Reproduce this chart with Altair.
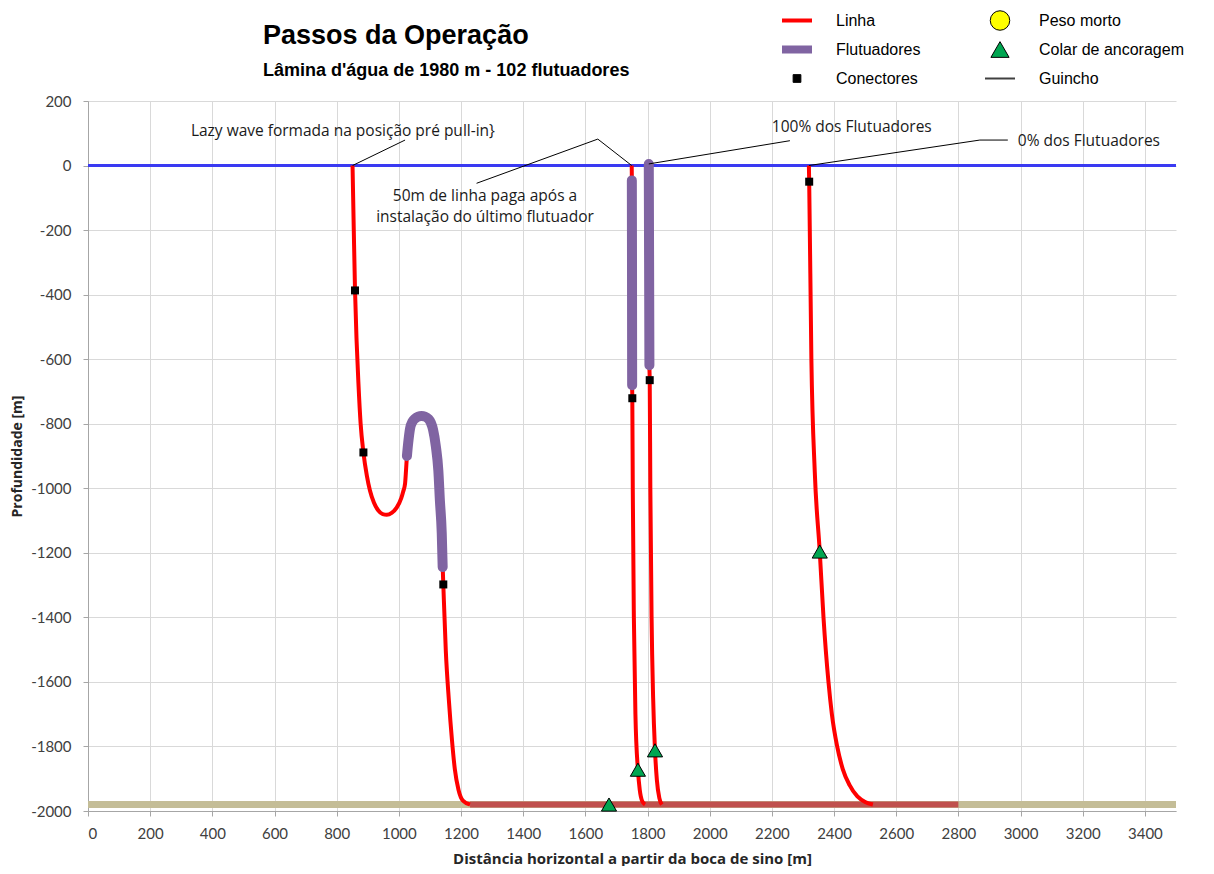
import altair as alt
import pandas as pd

# ---------------- data ----------------
# Curve 1 (lazy wave formed at pre pull-in position)
linha1_x = [851, 855, 859, 864, 870, 877, 886, 897, 907, 920, 934, 948, 961, 977, 993, 1008, 1014, 1020,
            1023, 1026, 1030, 1036, 1044, 1052, 1062, 1073, 1084, 1094, 1103, 1110, 1119, 1127, 1132, 1138,
            1141, 1143, 1151, 1161, 1171, 1180, 1192, 1206, 1229]
linha1_y = [0, -200, -387, -542, -676, -800, -889, -961, -1007, -1045, -1069, -1080, -1082, -1076, -1060,
            -1030, -1010, -985, -945, -900, -860, -815, -793, -784, -778, -776, -778, -784, -797, -818, -870,
            -945, -1038, -1140, -1244, -1298, -1503, -1658, -1782, -1870, -1935, -1968, -1980]
flut1_x = [1026, 1030, 1036, 1044, 1052, 1062, 1073, 1084, 1094, 1103, 1110, 1119, 1127, 1132, 1138, 1141]
flut1_y = [-900, -860, -815, -793, -784, -778, -776, -778, -784, -797, -818, -870, -945, -1038, -1140, -1244]

# Curve 2 (50 m of line paid out after last buoy)
linha2_x = [1749, 1749.5, 1750, 1750.5, 1751, 1752.5, 1756, 1761, 1769, 1775, 1783, 1792]
linha2_y = [0, -46, -300, -681, -721, -1000, -1400, -1700, -1872, -1935, -1970, -1980]
flut2_x = [1749.5, 1750, 1750.5]
flut2_y = [-46, -300, -681]

# Curve 3 (100% of buoys)
linha3_x = [1804, 1805, 1806, 1807, 1809, 1813, 1818, 1824, 1830, 1838, 1846]
linha3_y = [5, -300, -619, -665, -1000, -1400, -1650, -1812, -1904, -1960, -1980]
flut3_x = [1804, 1805, 1806]
flut3_y = [5, -300, -619]

# Curve 4 (0% of buoys)
linha4_x = [2319, 2320, 2327, 2338, 2354, 2366, 2382, 2393, 2410, 2428, 2450, 2475, 2500, 2525]
linha4_y = [0, -50, -598, -950, -1196, -1400, -1600, -1700, -1800, -1870, -1920, -1955, -1972, -1980]

# Line lying on the seabed
fundo_linha_x = [1229, 2800]
fundo_linha_y = [-1980, -1980]

# Sea surface and seabed
superficie_x = [0, 3500]
superficie_y = [0, 0]
leito_x = [0, 3500]
leito_y = [-1980, -1980]

# Connectors and anchoring collars
conect_x = [859, 886, 1143, 1751, 1807, 2320]
conect_y = [-387, -889, -1298, -721, -665, -50]
colar_x = [1676, 1769, 1824, 2354]
colar_y = [-1980, -1872, -1812, -1196]

# Annotations
anot_centro_txt = ["Lazy wave formada na posição pré pull-in}", "50m de linha paga após a",
                   "instalação do último flutuador", "100% dos Flutuadores"]
anot_centro_x = [820, 1277, 1277, 2457]
anot_centro_y = [108, -93, -158, 118]
anot_esq_txt = ["0% dos Flutuadores"]
anot_esq_x = [2991]
anot_esq_y = [76]
guia_id = [1, 1, 2, 2, 2, 3, 3, 4, 4, 4]
guia_x = [851, 1020, 1250, 1640, 1749, 1804, 2258, 2319, 2869, 2959]
guia_y = [0, 79, -55, 82, 0, 5, 77, 0, 79, 79]

# Legend (column-major: first column, then second column)
leg_itens = ["Linha", "Flutuadores", "Conectores", "Peso morto", "Colar de ancoragem", "Guincho"]
leg_formas = ["stroke", "stroke", "square", "circle", "triangle-up", "stroke"]
leg_preench = ["#ff0000", "#8064a2", "#000000", "#ffff00", "#00a651", "#404040"]
leg_contorno = ["#ff0000", "#8064a2", "#000000", "#000000", "#000000", "#404040"]
leg_tam = [900, 900, 60, 380, 330, 900]
leg_esp = [4, 8, 1, 1, 1, 2]

x_ticks = list(range(0, 3500, 200))
y_ticks = list(range(-2000, 201, 200))

# ---------------- frames ----------------
def seg(nome, xs, ys):
    return pd.DataFrame({"serie": nome, "x": xs, "y": ys, "ordem": list(range(len(xs)))})

df_linha = pd.concat([seg("c1", linha1_x, linha1_y), seg("c2", linha2_x, linha2_y),
                      seg("c3", linha3_x, linha3_y), seg("c4", linha4_x, linha4_y)])
df_flut = pd.concat([seg("f1", flut1_x, flut1_y), seg("f2", flut2_x, flut2_y),
                     seg("f3", flut3_x, flut3_y)])
df_fundo = seg("fundo", fundo_linha_x, fundo_linha_y)
df_sup = seg("sup", superficie_x, superficie_y)
df_leito = seg("leito", leito_x, leito_y)
df_con = pd.DataFrame({"x": conect_x, "y": conect_y})
df_col = pd.DataFrame({"x": colar_x, "y": colar_y})
df_anc = pd.DataFrame({"x": anot_centro_x, "y": anot_centro_y, "t": anot_centro_txt})
df_ane = pd.DataFrame({"x": anot_esq_x, "y": anot_esq_y, "t": anot_esq_txt})
df_guia = pd.DataFrame({"serie": guia_id, "x": guia_x, "y": guia_y, "ordem": list(range(len(guia_x)))})
df_leg = pd.DataFrame({"item": leg_itens})

FONT = "Lato"
TFONT = "Open Sans"
xs = alt.Scale(domain=[0, 3500], nice=False, zero=False)
ys = alt.Scale(domain=[-2000, 200], nice=False, zero=False)
X = alt.X("x:Q", scale=xs, axis=alt.Axis(values=x_ticks, title="Distância horizontal a partir da boca de sino [m]",
                                         labelExpr="'' + datum.value", labelPadding=10, titlePadding=10,
                                         titleFontSize=15))
Y = alt.Y("y:Q", scale=ys, axis=alt.Axis(values=y_ticks, title="Profundidade [m]", labelPadding=12,
                                         labelExpr="'' + datum.value", titlePadding=6))

leito = alt.Chart(df_leito).mark_line(color="#c4bd97", strokeWidth=7).encode(x=X, y=Y, order="ordem:Q")
sup = alt.Chart(df_sup).mark_line(color="#3a3af2", strokeWidth=3).encode(x=X, y=Y, order="ordem:Q")
fundo = alt.Chart(df_fundo).mark_line(color="#c0504d", strokeWidth=6).encode(x=X, y=Y, order="ordem:Q")
linha = alt.Chart(df_linha).mark_line(color="#ff0000", strokeWidth=4, interpolate="monotone").encode(
    x=X, y=Y, detail="serie:N", order="ordem:Q")
flut = alt.Chart(df_flut).mark_line(color="#8064a2", strokeWidth=10, interpolate="monotone",
                                    strokeCap="round").encode(x=X, y=Y, detail="serie:N", order="ordem:Q")
guia = alt.Chart(df_guia).mark_line(color="#000000", strokeWidth=1).encode(
    x=X, y=Y, detail="serie:N", order="ordem:Q")
txt_c = alt.Chart(df_anc).mark_text(font=TFONT, fontSize=15.5, color="#1a1a1a", align="center",
                                    baseline="middle").encode(x=X, y=Y, text="t:N")
txt_e = alt.Chart(df_ane).mark_text(font=TFONT, fontSize=15.5, color="#1a1a1a", align="left",
                                    baseline="middle").encode(x=X, y=Y, text="t:N")
con = alt.Chart(df_con).mark_point(shape="square", filled=True, color="#000000", size=64, opacity=1).encode(x=X, y=Y)
col = alt.Chart(df_col).mark_point(shape="triangle-up", filled=True, fill="#00a651", stroke="#000000",
                                   strokeWidth=1, size=230, opacity=1).encode(x=X, y=Y)

leg_obj = alt.Legend(title=None, orient="none", legendX=690, legendY=-95, columns=2, columnPadding=-4,
                     rowPadding=0, gridAlign="all", clipHeight=29, labelOffset=20, labelFont="Liberation Sans",
                     labelFontSize=16, labelColor="#000000", padding=0, symbolOpacity=1)
leg = alt.Chart(df_leg).mark_point(opacity=1, filled=False).encode(
    shape=alt.Shape("item:N", scale=alt.Scale(domain=leg_itens, range=leg_formas), legend=leg_obj),
    fill=alt.Fill("item:N", scale=alt.Scale(domain=leg_itens, range=leg_preench), legend=leg_obj),
    stroke=alt.Stroke("item:N", scale=alt.Scale(domain=leg_itens, range=leg_contorno), legend=leg_obj),
    size=alt.Size("item:N", scale=alt.Scale(type="ordinal", domain=leg_itens, range=leg_tam), legend=leg_obj),
    strokeWidth=alt.StrokeWidth("item:N", scale=alt.Scale(type="ordinal", domain=leg_itens, range=leg_esp),
                                legend=leg_obj),
).transform_filter("false")

chart = alt.layer(leito, sup, fundo, linha, flut, guia, txt_c, txt_e, con, col, leg).properties(
    width=1088, height=710,
    autosize=alt.AutoSizeParams(type="none"),
    padding={"left": 80, "top": 93, "right": 30, "bottom": 55},
    title=alt.Title("Passos da Operação", subtitle="Lâmina d'água de 1980 m - 102 flutuadores",
                    anchor="start", dx=175, font="Liberation Sans", fontSize=27, fontWeight="bold",
                    color="#000000", subtitleFont="Liberation Sans", subtitleFontSize=18,
                    subtitleFontWeight="bold", subtitleColor="#000000", subtitlePadding=12, offset=-75,
                    frame="group"),
).configure_view(stroke=None).configure_axis(
    gridColor="#d9d9d9", gridWidth=1, domainColor="#a6a6a6", tickColor="#a6a6a6", tickSize=5,
    labelFont=FONT, labelFontSize=15, labelColor="#404040", titleFont=TFONT, titleFontSize=14,
    titleFontWeight="bold", titleColor="#262626"
)

chart.save("out.html", embed_options={"renderer": "svg", "actions": False})
